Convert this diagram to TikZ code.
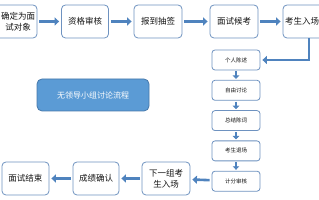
\documentclass[tikz,border=0pt]{standalone}
\usepackage{fontspec}
\setmainfont{Noto Sans CJK SC}
\usetikzlibrary{positioning,arrows.meta}
\definecolor{ink}{RGB}{20,20,20}
\definecolor{frame}{RGB}{110,146,192}
\definecolor{arrowblue}{RGB}{79,131,190}
\definecolor{titlefill}{RGB}{91,155,213}
\definecolor{titleframe}{RGB}{70,120,170}
\tikzset{
  box/.style={draw=frame, fill=white, rounded corners=4pt, align=center,
    inner sep=1pt, font=\fontsize{8.5}{11}\selectfont, text=ink, line width=0.8pt,
    minimum width=47pt, minimum height=33pt},
  sbox/.style={draw=frame, fill=white, rounded corners=3pt, align=center,
    inner sep=1pt, font=\fontsize{5.5}{7}\selectfont, text=ink, line width=0.8pt,
    minimum width=48pt, minimum height=20pt},
  tbox/.style={draw=titleframe, fill=titlefill, rounded corners=5pt, align=center,
    font=\fontsize{8}{10}\selectfont, text=white, line width=0.8pt,
    minimum width=112pt, minimum height=32pt},
  flow/.style={-{Triangle[length=4.5pt,width=8pt]}, line width=2.6pt, draw=arrowblue,
    shorten >=2pt, shorten <=2pt},
  sflow/.style={-{Triangle[length=3.5pt,width=6.5pt]}, line width=2.4pt, draw=arrowblue,
    shorten >=1pt, shorten <=1pt},
}
\begin{document}
\begin{tikzpicture}[x=1pt, y=1pt]
  \useasboundingbox (0,0) rectangle (319,200);
  % top row
  \node[box, minimum width=48pt] (confirm) at (13,178.5)
    {\hspace*{10pt}确定为面\\\hspace*{10pt}试对象};
  \node[box] (check) at (85,178.5) {资格审核};
  \node[box, minimum width=48pt] (draw) at (158,178.5) {报到抽签};
  \node[box, minimum width=48pt] (wait) at (234,178.5) {面试候考};
  \node[box, minimum width=52pt] (enter) at (309,178.5) {考生入场\hspace*{14pt}};
  % title
  \node[tbox] (title) at (93,105) {无领导小组讨论流程};
  % discussion column
  \node[sbox] (pers) at (236,140) {个人陈述};
  \node[sbox, below=9.5pt of pers] (free) {自由讨论};
  \node[sbox, below=9.5pt of free] (sum) {总结陈词};
  \node[sbox, below=9.5pt of sum] (leave) {考生退场};
  \node[sbox, below=9.5pt of leave] (score) {计分审核};
  % bottom row
  \node[box, minimum width=48pt] (next) at (166,21.5) {下一组考\\生入场};
  \node[box, minimum width=46pt] (result) at (96,21.5) {成绩确认};
  \node[box] (finish) at (25.5,21.5) {面试结束};
  \draw[flow] (confirm) -- (check);
  \draw[flow] (check) -- (draw);
  \draw[flow] (draw) -- (wait);
  \draw[flow] (wait) -- (enter);
  \draw[flow, shorten <=0pt] (enter.south) |- (pers.east);
  \draw[sflow] (pers) -- (free);
  \draw[sflow] (free) -- (sum);
  \draw[sflow] (sum) -- (leave);
  \draw[sflow] (leave) -- (score);
  \draw[flow] (score) -- (next);
  \draw[flow] (next) -- (result);
  \draw[flow] (result) -- (finish);
\end{tikzpicture}
\end{document}
